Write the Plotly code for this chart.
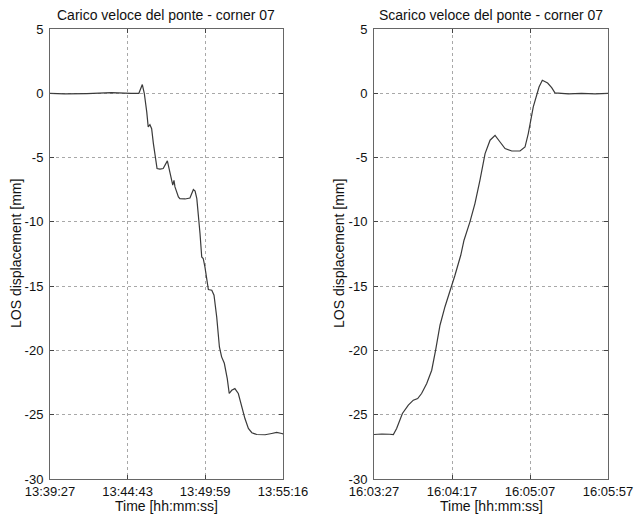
import datetime as dt
import plotly.graph_objects as go

# ---------------- data ----------------
left_title = "Carico veloce del ponte - corner 07"
right_title = "Scarico veloce del ponte - corner 07"
y_label = "LOS displacement [mm]"
x_label = "Time [hh:mm:ss]"

left_start = "13:39:27"
left_end = "13:55:16"
left_ticks = ["13:39:27", "13:44:43", "13:49:59", "13:55:16"]
# seconds after left_start
left_t = [0, 60, 150, 250, 330, 358, 362, 376, 384, 394, 400, 407, 414, 421, 428, 436,
          448, 461, 478, 489, 500, 505, 509, 523, 529, 550, 570, 584, 591, 598, 604,
          611, 618, 624, 631, 638, 645, 659, 668, 679, 690, 699, 710, 722, 730, 740,
          753, 767, 781, 794, 808, 822, 842, 876, 903, 923, 944, 949]
left_y = [0.0, -0.05, -0.02, 0.05, 0.0, 0.0, 0.0, 0.68, 0.0, -1.45, -2.62, -2.44, -2.75,
          -3.9, -5.0, -5.85, -5.9, -5.85, -5.26, -6.25, -7.15, -6.77, -7.28, -8.06, -8.2,
          -8.22, -8.15, -7.49, -7.6, -8.2, -9.36, -10.9, -12.73, -12.85, -13.5, -14.54,
          -15.27, -15.32, -15.7, -17.4, -19.73, -20.5, -21.0, -22.2, -23.35, -23.1, -22.97,
          -23.35, -24.4, -25.3, -26.07, -26.4, -26.54, -26.56, -26.46, -26.38, -26.46, -26.5]

right_start = "16:03:27"
right_end = "16:05:57"
right_ticks = ["16:03:27", "16:04:17", "16:05:07", "16:05:57"]
# seconds after right_start
right_t = [0, 5, 10, 12.4, 14.5, 18.2, 22, 25.2, 28, 30.5, 33.8, 37, 39.5, 42.3, 45.5,
           48.7, 51.9, 55.6, 57.7, 61.5, 64.7, 67.9, 71.2, 74.4, 77.6, 80.8, 84, 88.3,
           93.6, 96.8, 98.9, 102.1, 104.3, 105.8, 107.9, 111.3, 113.9, 116, 124.6, 133,
           141.7, 150]
right_y = [-26.54, -26.5, -26.52, -26.54, -26.07, -24.9, -24.26, -23.87, -23.74, -23.35,
           -22.57, -21.54, -19.98, -18.04, -16.6, -15.45, -14.15, -12.6, -11.43, -10.0,
           -8.58, -6.77, -4.69, -3.65, -3.27, -3.79, -4.3, -4.49, -4.49, -4.18, -3.13,
           -1.06, 0.0, 0.49, 1.01, 0.8, 0.44, 0.03, -0.05, 0.0, -0.05, 0.0]

y_ticks = [-30, -25, -20, -15, -10, -5, 0, 5]
y_tick_text = ["-30", "-25", "-20", "-15", "-10", "-5", "0", "5"]

# ---------------- helpers ----------------
DAY = "2000-01-01 "


def to_dt(hms):
    return dt.datetime.strptime(DAY + hms, "%Y-%m-%d %H:%M:%S")


def offsets(start, secs):
    s = to_dt(start)
    return [s + dt.timedelta(seconds=v) for v in secs]


EPS = dt.timedelta(milliseconds=5)  # keeps the end tick inside the range

W, H = 634, 515
FONT = "Liberation Sans, Arial, sans-serif"
LINE = "#3a3a3a"
FRAME = "#666666"
GRID = "#a8a8a8"
FS_TICK = 13
FS = 14


def px(v):
    return v / W


def py(v):
    return (H - v) / H


fig = go.Figure()
fig.add_trace(go.Scatter(x=offsets(left_start, left_t), y=left_y, mode="lines",
                         line=dict(color=LINE, width=1.2), xaxis="x", yaxis="y",
                         showlegend=False))
fig.add_trace(go.Scatter(x=offsets(right_start, right_t), y=right_y, mode="lines",
                         line=dict(color=LINE, width=1.2), xaxis="x2", yaxis="y2",
                         showlegend=False))

y_dom = [py(479), py(29)]
tick_font = dict(family=FONT, size=FS_TICK, color="#111")
common_x = dict(type="date", showline=True, mirror="ticks", linecolor=FRAME, linewidth=1,
                ticks="inside", ticklen=4, tickcolor="#444", showgrid=True,
                gridcolor=GRID, griddash="dot", gridwidth=1, zeroline=False,
                automargin=False, tickfont=tick_font, ticklabelstandoff=0,
                ticklabeloverflow="allow")
common_y = dict(range=[-30, 5], tickvals=y_ticks, ticktext=y_tick_text, showline=True,
                mirror="ticks", linecolor=FRAME, linewidth=1, ticks="inside", ticklen=4,
                tickcolor="#444", showgrid=True, gridcolor=GRID, griddash="dot",
                gridwidth=1, zeroline=False, automargin=False, domain=y_dom,
                tickfont=tick_font, ticklabelstandoff=3)

fig.update_layout(
    width=W, height=H,
    margin=dict(l=0, r=0, t=0, b=0),
    paper_bgcolor="white", plot_bgcolor="white",
    xaxis=dict(common_x, domain=[px(50), px(283)], anchor="y",
               range=[to_dt(left_start) - EPS, to_dt(left_end) + EPS],
               tickvals=[to_dt(t) for t in left_ticks], ticktext=left_ticks),
    yaxis=dict(common_y, anchor="x"),
    xaxis2=dict(common_x, domain=[px(374), px(608)], anchor="y2",
                range=[to_dt(right_start) - EPS, to_dt(right_end) + EPS],
                tickvals=[to_dt(t) for t in right_ticks], ticktext=right_ticks),
    yaxis2=dict(common_y, anchor="x2"),
)

ann_font = dict(family=FONT, size=FS, color="#111")
annotations = [
    dict(text=left_title, x=px(166.5), y=py(15), xref="paper", yref="paper",
         showarrow=False, font=ann_font, xanchor="center", yanchor="middle"),
    dict(text=right_title, x=px(491), y=py(15), xref="paper", yref="paper",
         showarrow=False, font=ann_font, xanchor="center", yanchor="middle"),
    dict(text=x_label, x=px(166.5), y=py(506), xref="paper", yref="paper",
         showarrow=False, font=ann_font, xanchor="center", yanchor="middle"),
    dict(text=x_label, x=px(491), y=py(506), xref="paper", yref="paper",
         showarrow=False, font=ann_font, xanchor="center", yanchor="middle"),
    dict(text=y_label, x=px(16), y=py(254), xref="paper", yref="paper", textangle=-90,
         showarrow=False, font=ann_font, xanchor="center", yanchor="middle"),
    dict(text=y_label, x=px(339), y=py(254), xref="paper", yref="paper", textangle=-90,
         showarrow=False, font=ann_font, xanchor="center", yanchor="middle"),
]
fig.update_layout(annotations=annotations)

# remove the default 8px page margin so the 634x515 figure fills the window exactly
fig.write_html("out.html",
               config={"displayModeBar": False},
               post_script="document.body.style.margin='0';"
                           "document.body.style.overflow='hidden';")
